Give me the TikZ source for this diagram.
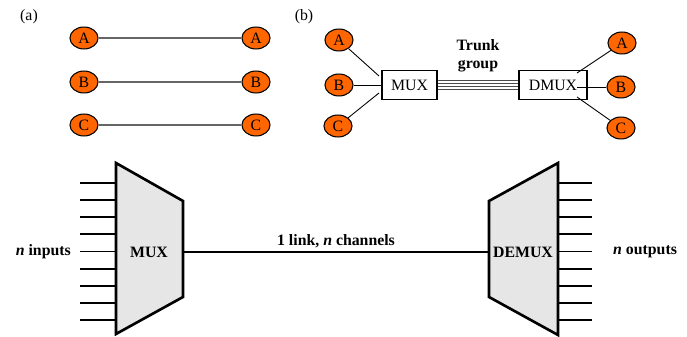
\documentclass[tikz,border=0pt]{standalone}
\usepackage{fontspec}
\setmainfont{Liberation Serif}
\usetikzlibrary{shapes.geometric}
\definecolor{stationorange}{HTML}{FF6600}
\definecolor{muxgray}{HTML}{E6E6E6}
\begin{document}
\begin{tikzpicture}[x=0.02cm,y=-0.02cm,font=\fontsize{9}{10.5}\selectfont,
  station/.style={ellipse,draw,line width=0.6pt,fill=stationorange,inner sep=0pt,
    minimum width=16pt,minimum height=12.5pt},
  muxbox/.style={draw,line width=0.6pt,inner sep=0pt,minimum height=16pt},
  wire/.style={line width=1.1pt},
  block/.style={draw,line width=1.5pt,fill=muxgray,line join=miter}]

% ---------- canvas (measured in pixels of the source, y downwards) ----------
\useasboundingbox (0,0) rectangle (687,337);

% ---------- (a) point-to-point lines ----------
\node (labela) at (29,17) {(a)};
\node[station] (laA) at (84,38) {A};
\node[station] (laB) at (84,82) {B};
\node[station] (laC) at (84,125) {C};
\node[station] (raA) at (256,38) {A};
\node[station] (raB) at (256,82) {B};
\node[station] (raC) at (256,125) {C};
\foreach \s in {A,B,C}
  \draw[gray!80!black,line width=0.9pt] (la\s) -- (ra\s);

% ---------- (b) trunk group ----------
\node (labelb) at (304,17) {(b)};
\node[station] (lbA) at (339,40) {A};
\node[station] (lbB) at (339,85) {B};
\node[station] (lbC) at (338,126) {C};
\node[muxbox,minimum width=31.3pt] (mux) at (409.5,85) {MUX};
\node[muxbox,minimum width=38.7pt] (dmux) at (553,85) {DMUX};
\node[station] (rbA) at (622,43) {A};
\node[station] (rbB) at (621,87) {B};
\node[station] (rbC) at (621,128) {C};
\node[align=center,font=\fontsize{9}{10.5}\selectfont\bfseries] (trunk) at (478,56) {Trunk\\group};

\coordinate (muxA) at (379,76);
\coordinate (muxB) at (382,85);
\coordinate (muxC) at (379,93);
\coordinate (dmuxA) at (577,73);
\coordinate (dmuxB) at (577,87);
\coordinate (dmuxC) at (577,97);
\foreach \s in {A,B,C} {
  \draw[line width=0.5pt] (lb\s) -- (mux\s);
  \draw[line width=0.5pt] (dmux\s) -- (rb\s);
}
\foreach \dy in {-4.5,-1.5,1.5,4.5}
  \draw[line width=0.7pt,black!70] ([yshift=\dy*0.569pt]mux.east) -- ([yshift=\dy*0.569pt]dmux.west);

% ---------- bottom: MUX / DEMUX ----------
\draw[block] (116,163) -- (183,201) -- (183,297) -- (116,334) -- cycle;
\draw[block] (489,201) -- (558,163) -- (558,335) -- (489,297) -- cycle;
\foreach \i in {0,...,8} {
  \draw[wire] (80,183+\i*17.125) -- (116,183+\i*17.125);
  \draw[wire] (558,183+\i*17.125) -- (592,183+\i*17.125);
}
\node[font=\fontsize{9}{10.5}\selectfont\bfseries] (muxlbl) at (149,252) {MUX};
\node[font=\fontsize{9}{10.5}\selectfont\bfseries] (demuxlbl) at (523,252) {DEMUX};
\node[anchor=east,font=\fontsize{9}{10.5}\selectfont\bfseries] (inputs) at (77,252) {\textit{n} inputs};
\node[anchor=west,font=\fontsize{9}{10.5}\selectfont\bfseries] (outputs) at (607,252) {\textit{n} outputs};
\node[font=\fontsize{9}{10.5}\selectfont\bfseries] (link) at (336,241) {1 link, \textit{n} channels};

\coordinate (muxout) at (183,252);
\coordinate (demuxin) at (489,252);
\draw[wire] (muxout) -- (demuxin);

\end{tikzpicture}
\end{document}
